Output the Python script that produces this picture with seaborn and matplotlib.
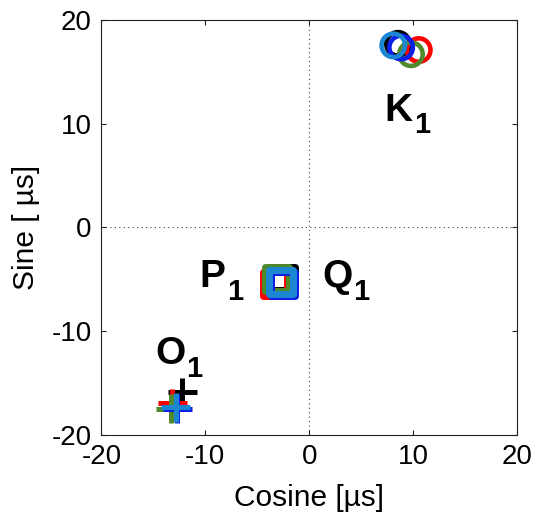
import matplotlib
matplotlib.use("Agg")
import matplotlib.pyplot as plt
import pandas as pd
import seaborn as sns

# Harmonic constituents in the cosine/sine plane [µs], one point per solution
series = ["Model", "Sol A", "Sol B", "Sol C", "Sol D"]
palette = ["#000000", "#ff0000", "#4e8a2c", "#0b1fe8", "#1b86d2"]

k1_cos = [8.55, 10.55, 9.8, 8.85, 8.1]
k1_sin = [17.7, 17.1, 16.7, 17.35, 17.55]
p1_cos = [-2.5, -3.3, -3.1, -2.55, -2.7]
p1_sin = [-4.95, -5.45, -5.0, -5.5, -5.3]
o1_cos = [-12.2, -13.2, -13.35, -12.7, -12.85]
o1_sin = [-15.9, -17.0, -17.5, -17.5, -17.35]

axis_ticks = [-20, -10, 0, 10, 20]

sns.set_theme(style="ticks")
plt.rcParams["font.family"] = ["Liberation Sans", "DejaVu Sans"]
plt.rcParams["axes.unicode_minus"] = False
plt.rcParams["text.color"] = "black"
plt.rcParams["axes.labelcolor"] = "black"
plt.rcParams["xtick.color"] = "black"
plt.rcParams["ytick.color"] = "black"

fig = plt.figure(figsize=(5.34, 5.13), dpi=100)
ax = fig.add_axes([0.190, 0.153, 0.968 - 0.190, 0.961 - 0.153])

color_of = dict(zip(series, palette))


def draw(cos_vals, sin_vals, marker, size, lw):
    df = pd.DataFrame({"cos": cos_vals, "sin": sin_vals, "series": series})
    sns.scatterplot(data=df, x="cos", y="sin", hue="series", palette=color_of,
                    hue_order=series, marker=marker, s=size, legend=False,
                    ax=ax, zorder=3)
    coll = ax.collections[-1]
    coll.set_edgecolors([color_of[s] for s in df["series"]])
    coll.set_facecolors("none")
    coll.set_linewidths(lw)


draw(k1_cos, k1_sin, "o", 285, 3.3)
draw(p1_cos, p1_sin, "s", 290, 5.0)
draw(o1_cos, o1_sin, "+", 436, 3.6)

# Zero reference lines
ax.axhline(0, color="#444444", lw=0.8, ls=(0, (1, 3)), zorder=1)
ax.axvline(0, color="#444444", lw=0.8, ls=(0, (1, 3)), zorder=1)

# Constituent labels: bold letter with a smaller lowered "1"
labels = [("K", 7.25, 10.3), ("P", -10.55, -5.77),
          ("Q", 1.23, -5.77), ("O", -14.85, -13.2)]
for letter, lx, ly in labels:
    t = ax.text(lx, ly, letter, fontsize=28, fontweight="bold", ha="left",
                va="baseline", zorder=4)
    ax.annotate("1", xy=(1, 0), xycoords=t, xytext=(1, -3.5),
                textcoords="offset points", fontsize=21, fontweight="bold",
                ha="left", va="baseline", zorder=4)

ax.set_xlim(-20, 20)
ax.set_ylim(-20, 20)
ax.set_xticks(axis_ticks)
ax.set_yticks(axis_ticks)
ax.set_xticklabels([str(t) for t in axis_ticks])
ax.set_yticklabels([str(t) for t in axis_ticks])
ax.tick_params(direction="in", length=3.6, width=0.8, top=True, right=True,
               labelsize=20, pad=7, color="#222222")
for sp in ax.spines.values():
    sp.set_linewidth(0.8)
    sp.set_color("#222222")
    sp.set_visible(True)

ax.set_xlabel("Cosine [µs]", fontsize=21.5, labelpad=10)
ax.set_ylabel("Sine [ µs]", fontsize=21.5, labelpad=8)

fig.savefig("out.png", dpi=100)
